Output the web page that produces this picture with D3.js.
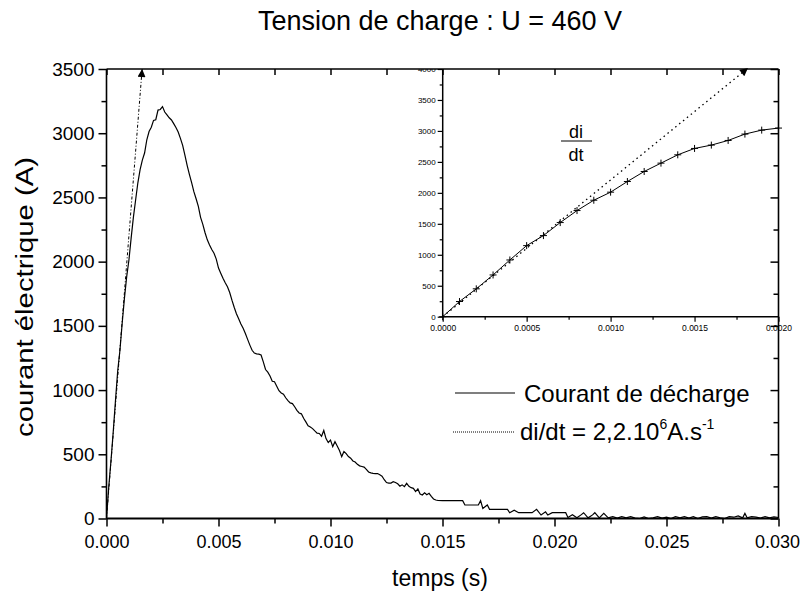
<!DOCTYPE html>
<html><head><meta charset="utf-8">
<script src="https://cdn.jsdelivr.net/npm/d3@7"></script>
<style>
body{margin:0;background:#fff}
svg{display:block}
text{font-family:"Liberation Sans",Arial,Helvetica,sans-serif;fill:#000}
</style>
</head><body>
<svg id="c" width="801" height="595"></svg>
<script>
// ---------- data ----------
const titleText = "Tension de charge : U = 460 V";
const xLabel = "temps (s)";
const yLabel = "courant électrique (A)";
const legendNames = ["Courant de décharge", "di/dt = 2,2.10"];
const xTicks = [0, 0.005, 0.010, 0.015, 0.020, 0.025, 0.030];
const xMinor = [0.0025, 0.0075, 0.0125, 0.0175, 0.0225, 0.0275];
const yTicks = [0, 500, 1000, 1500, 2000, 2500, 3000, 3500];
const yMinor = [250, 750, 1250, 1750, 2250, 2750, 3250];
const slope = 2.2e6; // A/s

// time in ms, current in A
const mainTms = [
 0.0,0.1,0.2,0.3,0.4,0.5,0.6,0.7,0.8,0.9,1.0,1.1,1.2,1.3,1.4,1.5,1.6,1.7,1.8,1.9,2.0,
 2.1,2.2,2.3,2.4,2.5,2.6,2.7,2.8,2.9,3.0,3.1,3.2,3.3,3.4,3.5,3.6,3.7,3.8,3.9,4.0,
 4.1,4.2,4.3,4.4,4.5,4.6,4.7,4.8,4.9,5.0,5.1,5.2,5.3,5.4,5.5,5.6,5.7,5.8,5.9,6.0,
 6.1,6.2,6.3,6.4,6.5,6.6,6.7,6.8,6.9,7.0,7.1,7.2,7.3,7.4,7.5,7.6,7.7,7.8,7.9,8.0,
 8.1,8.2,8.3,8.4,8.5,8.6,8.7,8.8,8.9,9.0,9.1,9.2,9.3,9.4,9.5,9.6,9.7,9.8,9.9,10.0,
 10.1,10.2,10.3,10.4,10.5,10.6,10.7,10.8,10.9,11.0,11.1,11.2,11.3,11.4,11.5,11.6,11.7,11.8,11.9,12.0,
 12.1,12.2,12.3,12.4,12.5,12.6,12.7,12.8,12.9,13.0,13.1,13.2,13.3,13.4,13.5,13.6,13.7,13.8,13.9,14.0,
 14.1,14.2,14.3,14.4,14.5,14.6,14.7,14.8,
 15.0,15.3,15.6,15.9,16.0,16.3,16.6,16.7,16.8,17.0,17.1,17.4,17.7,17.9,18.0,18.2,18.4,18.7,19.0,19.2,
 19.4,19.6,19.7,19.9,20.2,20.5,20.6,20.8,21.0,21.2,21.3,21.5,21.7,21.8,22.0,22.2,22.4,22.6,22.8,23.0,
 23.2,23.4,23.6,23.8,24.0,24.2,24.4,24.6,24.8,25.0,25.2,25.4,25.6,25.8,26.0,26.2,26.4,26.6,26.8,27.0,
 27.2,27.4,27.6,27.8,28.0,28.2,28.4,28.5,28.6,28.8,29.0,29.2,29.4,29.6,29.8,30.0
];
const mainI = [
 0,245,450,674,916,1148,1310,1520,1714,1881,2011,2183,2345,2480,2614,2717,2790,2846,2949,3013,3046,
 3100,3105,3180,3185,3207,3165,3142,3120,3103,3075,3045,3010,2960,2905,2830,2750,2680,2615,2545,2490,
 2430,2345,2290,2225,2170,2130,2095,2065,2020,1950,1910,1870,1835,1805,1760,1700,1645,1595,1555,1515,
 1482,1440,1395,1350,1310,1288,1282,1280,1273,1220,1160,1140,1110,1068,1065,1030,995,978,968,940,
 918,900,895,870,842,822,815,780,752,722,712,700,682,665,662,640,685,622,592,610,
 560,598,565,530,482,522,505,482,470,448,440,422,410,405,400,382,362,355,352,350,
 350,340,330,302,280,275,276,286,280,270,252,262,248,274,250,240,235,210,230,190,
 183,200,185,196,172,152,144,140,
 139,139,139,139,105,105,105,139,78,105,71,71,71,71,45,65,45,45,45,71,
 27,52,27,45,45,45,8,30,5,30,45,5,28,45,5,40,5,15,3,15,
 5,15,3,0,12,0,5,15,3,10,0,15,5,15,3,15,0,12,15,3,
 15,5,0,15,10,20,5,40,5,15,10,3,15,5,12,8
];

// inset (zoom on the rise)
const insetTms = [0.0,0.1,0.2,0.3,0.4,0.5,0.6,0.7,0.8,0.9,1.0,1.1,1.2,1.3,1.4,1.5,1.6,1.7,1.8,1.9,2.0];
const insetI = [0,245,450,674,916,1148,1310,1520,1714,1881,2011,2183,2345,2480,2614,2717,2771,2846,2949,3013,3046];
const insetXTicks = [0, 0.0005, 0.0010, 0.0015, 0.0020];
const insetXMinor = [0.00025, 0.00075, 0.00125, 0.00175];
const insetYTicks = [0, 500, 1000, 1500, 2000, 2500, 3000, 3500, 4000];
const insetYMinor = [250, 750, 1250, 1750, 2250, 2750, 3250, 3750];

// ---------- drawing ----------
const svg = d3.select("#c");
const W = 801, H = 595;
const L = 106.5, R = 778.5, T = 69, B = 518.5;

const x = d3.scaleLinear().domain([0, 0.030]).range([L, R]);
const y = d3.scaleLinear().domain([0, 3500]).range([B, T]);

const defs = svg.append("defs");
defs.append("marker").attr("id","arr").attr("viewBox","0 0 10 10")
  .attr("refX",10).attr("refY",5).attr("markerWidth",12).attr("markerHeight",8)
  .attr("markerUnits","userSpaceOnUse").attr("orient","auto")
  .append("path").attr("d","M0,0 L10,5 L0,10 Z").attr("fill","#000");
defs.append("clipPath").attr("id","plotclip").append("rect")
  .attr("x",0).attr("y",T).attr("width",W).attr("height",H-T);

// title
svg.append("text").attr("x",440).attr("y",30).attr("text-anchor","middle")
  .attr("font-size",27).text(titleText);

// axes label
svg.append("text").attr("x",440).attr("y",586).attr("text-anchor","middle")
  .attr("font-size",23).text(xLabel);
svg.append("text").attr("transform","translate(33,297) rotate(-90)")
  .attr("text-anchor","middle").attr("font-size",23)
  .attr("textLength",280).attr("lengthAdjust","spacingAndGlyphs").text(yLabel);

function styleAxis(g){
  g.select(".domain").remove();
  g.selectAll(".tick line").attr("stroke","#000").attr("stroke-width",1.5);
}

// main axes
svg.append("g").attr("transform",`translate(0,${B})`)
  .call(d3.axisBottom(x).tickValues(xTicks).tickSize(8).tickPadding(9).tickFormat(d3.format(".3f")))
  .call(styleAxis)
  .call(g=>g.selectAll("text").attr("font-size",18).attr("font-family",null))
  .call(g=>g.selectAll(".tick").filter(d=>d===0.030).select("text").attr("text-anchor","end").attr("x",21));
svg.append("g").attr("transform",`translate(0,${B})`)
  .call(d3.axisBottom(x).tickValues(xMinor).tickSize(5).tickFormat(""))
  .call(styleAxis);
svg.append("g").attr("transform",`translate(${L},0)`)
  .call(d3.axisLeft(y).tickValues(yTicks).tickSize(8).tickPadding(4).tickFormat(d3.format("d")))
  .call(styleAxis).call(g=>g.selectAll("text").attr("font-size",19).attr("font-family",null));
svg.append("g").attr("transform",`translate(${L},0)`)
  .call(d3.axisLeft(y).tickValues(yMinor).tickSize(5).tickFormat(""))
  .call(styleAxis);
svg.append("g").attr("transform",`translate(0,${T})`)
  .call(d3.axisTop(x).tickValues(xTicks.concat(xMinor)).tickSize(-6).tickFormat(""))
  .call(styleAxis);
svg.append("g").attr("transform",`translate(${R},0)`)
  .call(d3.axisRight(y).tickValues(yTicks).tickSize(-8).tickFormat(""))
  .call(styleAxis);
svg.append("g").attr("transform",`translate(${R},0)`)
  .call(d3.axisRight(y).tickValues(yMinor).tickSize(-5).tickFormat(""))
  .call(styleAxis);

// main curve
const mainData = mainTms.map((t,i)=>[t/1000, mainI[i]]);
svg.append("path").datum(mainData)
  .attr("d", d3.line().x(d=>x(d[0])).y(d=>y(d[1])))
  .attr("fill","none").attr("stroke","#000").attr("stroke-width",1.2);

// di/dt slope in main plot
const tTop = 3500/slope;
svg.append("line").attr("x1",x(0)).attr("y1",y(0)).attr("x2",x(tTop)).attr("y2",y(3500))
  .attr("stroke","#000").attr("stroke-width",1).attr("stroke-dasharray","3,2,1,2")
  .attr("marker-end","url(#arr)");

// ---------- inset ----------
const iL = 442.7, iR = 778.5, iT = 69, iB = 316.7;
const xi = d3.scaleLinear().domain([0, 0.0020]).range([iL, iR]);
const yi = d3.scaleLinear().domain([0, 4000]).range([iB, iT]);

const inset = svg.append("g");
inset.append("g").attr("transform",`translate(0,${iB})`)
  .call(d3.axisBottom(xi).tickValues(insetXTicks).tickSize(5).tickPadding(3).tickFormat(d3.format(".4f")))
  .call(styleAxis).call(g=>g.selectAll("text").attr("font-size",8.5).attr("font-family",null));
inset.append("g").attr("transform",`translate(0,${iB})`)
  .call(d3.axisBottom(xi).tickValues(insetXMinor).tickSize(3).tickFormat(""))
  .call(styleAxis);
inset.append("g").attr("clip-path","url(#plotclip)")
  .append("g").attr("transform",`translate(${iL},0)`)
  .call(d3.axisLeft(yi).tickValues(insetYTicks).tickSize(5).tickPadding(2).tickFormat(d3.format("d")))
  .call(styleAxis).call(g=>g.selectAll("text").attr("font-size",8).attr("font-family",null));
inset.append("g").attr("transform",`translate(${iL},0)`)
  .call(d3.axisLeft(yi).tickValues(insetYMinor).tickSize(3).tickFormat(""))
  .call(styleAxis);
inset.selectAll(".tick line").attr("stroke-width",1.2);

const insetData = insetTms.map((t,i)=>[t/1000, insetI[i]]);
inset.append("path").datum(insetData)
  .attr("d", d3.line().x(d=>xi(d[0])).y(d=>yi(d[1])))
  .attr("fill","none").attr("stroke","#000").attr("stroke-width",1);
inset.selectAll("path.plus").data(insetData).join("path").attr("class","plus")
  .attr("d", d=>{const px=xi(d[0]), py=yi(d[1]); return `M${px-3.5},${py}H${px+3.5}M${px},${py-3.5}V${py+3.5}`;})
  .attr("stroke","#000").attr("stroke-width",1);

const tTopI = 4000/slope;
inset.append("line").attr("x1",xi(0)).attr("y1",yi(0)).attr("x2",xi(tTopI)).attr("y2",yi(4000)-1)
  .attr("stroke","#000").attr("stroke-width",1.3).attr("stroke-dasharray","1.5,3.5")
  .attr("marker-end","url(#arr)");

// di/dt fraction
inset.append("text").attr("x",576).attr("y",138).attr("text-anchor","middle").attr("font-size",18).text("di");
inset.append("line").attr("x1",561).attr("x2",592).attr("y1",141).attr("y2",141).attr("stroke","#000").attr("stroke-width",1);
inset.append("text").attr("x",576).attr("y",161).attr("text-anchor","middle").attr("font-size",18).text("dt");

// inset axis lines
inset.append("line").attr("x1",iL).attr("x2",iL).attr("y1",iT).attr("y2",iB).attr("stroke","#000").attr("stroke-width",1.5);
inset.append("line").attr("x1",iL).attr("x2",iR).attr("y1",iB).attr("y2",iB).attr("stroke","#000").attr("stroke-width",1.5);

// main frame
svg.append("line").attr("x1",L).attr("x2",R).attr("y1",B).attr("y2",B).attr("stroke","#000").attr("stroke-width",2);
svg.append("line").attr("x1",L).attr("x2",L).attr("y1",T).attr("y2",B).attr("stroke","#000").attr("stroke-width",1.6);
svg.append("line").attr("x1",L).attr("x2",R).attr("y1",T).attr("y2",T).attr("stroke","#000").attr("stroke-width",1.6);
svg.append("line").attr("x1",R).attr("x2",R).attr("y1",T).attr("y2",B).attr("stroke","#000").attr("stroke-width",1.6);

// ---------- legend ----------
const lg = svg.append("g");
lg.append("line").attr("x1",455).attr("x2",515).attr("y1",393).attr("y2",393).attr("stroke","#000").attr("stroke-width",1.2);
lg.append("text").attr("x",524).attr("y",402).attr("font-size",24).text(legendNames[0]);
lg.append("line").attr("x1",453).attr("x2",515).attr("y1",432).attr("y2",432).attr("stroke","#000").attr("stroke-width",1).attr("stroke-dasharray","1,1");
const t2 = lg.append("text").attr("x",520).attr("y",440).attr("font-size",24);
t2.append("tspan").text(legendNames[1]);
t2.append("tspan").attr("font-size",14).attr("dy",-11).text("6");
t2.append("tspan").attr("dy",11).text("A.s");
t2.append("tspan").attr("font-size",14).attr("dy",-11).text("-1");
</script>
</body></html>
